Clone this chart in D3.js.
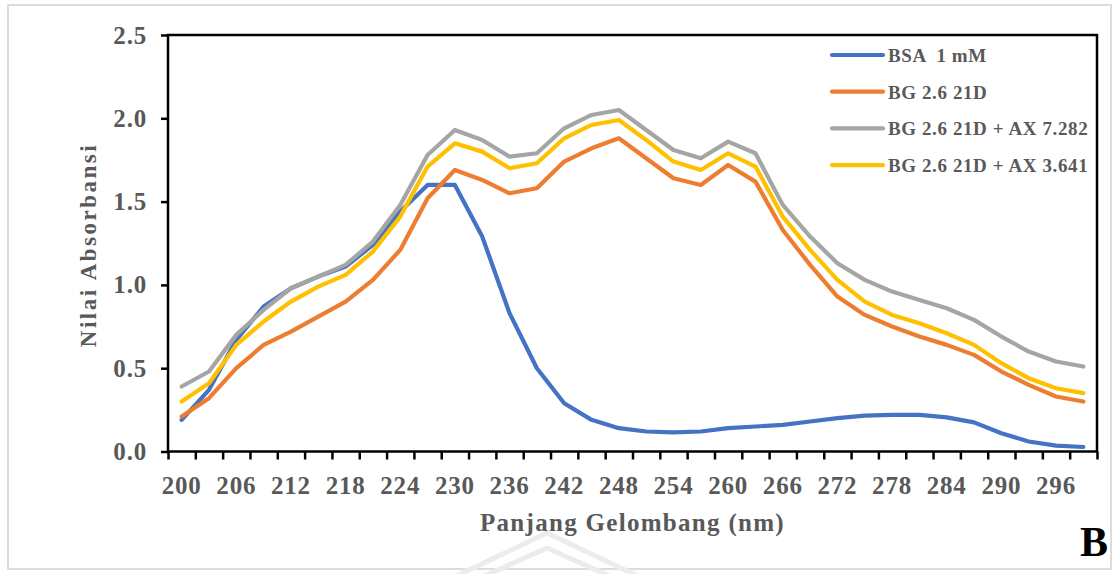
<!DOCTYPE html>
<html>
<head>
<meta charset="utf-8">
<script src="https://cdn.jsdelivr.net/npm/d3@7"></script>
<style>
  html, body { margin: 0; padding: 0; background: #fff; }
  svg { display: block; }
  text { font-family: "Liberation Serif", "Times New Roman", serif; font-weight: bold; }
</style>
</head>
<body>
<svg id="chart" width="1117" height="574"></svg>
<script>
// Wavelength categories (nm), one absorbance reading per category
const wavelengths = [200, 203, 206, 209, 212, 215, 218, 221, 224, 227, 230, 233, 236, 239, 242, 245, 248,
                     251, 254, 257, 260, 263, 266, 269, 272, 275, 278, 281, 284, 287, 290, 293, 296, 299];

const bsa = [0.19, 0.37, 0.67, 0.87, 0.98, 1.05, 1.11, 1.24, 1.44, 1.60, 1.60, 1.29, 0.83, 0.50, 0.29, 0.19, 0.14,
             0.12, 0.115, 0.12, 0.14, 0.15, 0.16, 0.18, 0.20, 0.215, 0.22, 0.22, 0.205, 0.175, 0.11, 0.06, 0.035, 0.027];

const bg = [0.21, 0.32, 0.50, 0.64, 0.72, 0.81, 0.90, 1.03, 1.21, 1.52, 1.69, 1.63, 1.55, 1.58, 1.74, 1.82, 1.88,
            1.76, 1.64, 1.60, 1.72, 1.62, 1.33, 1.12, 0.93, 0.82, 0.75, 0.69, 0.64, 0.58, 0.48, 0.40, 0.33, 0.30];

const bgAx7282 = [0.39, 0.48, 0.70, 0.85, 0.98, 1.05, 1.12, 1.26, 1.48, 1.78, 1.93, 1.87, 1.77, 1.79, 1.94, 2.02, 2.05,
                  1.93, 1.81, 1.76, 1.86, 1.79, 1.48, 1.29, 1.13, 1.03, 0.96, 0.91, 0.86, 0.79, 0.69, 0.60, 0.54, 0.51];

const bgAx3641 = [0.30, 0.41, 0.64, 0.78, 0.90, 0.99, 1.06, 1.20, 1.41, 1.71, 1.85, 1.80, 1.70, 1.73, 1.88, 1.96, 1.99,
                  1.87, 1.74, 1.69, 1.79, 1.71, 1.41, 1.21, 1.03, 0.90, 0.82, 0.77, 0.71, 0.64, 0.53, 0.44, 0.38, 0.35];

const seriesNames = ["BSA  1 mM", "BG 2.6 21D", "BG 2.6 21D + AX 7.282", "BG 2.6 21D + AX 3.641"];
const seriesColors = ["#4472C4", "#ED7D31", "#A5A5A5", "#FFC000"];
const seriesValues = [bsa, bg, bgAx7282, bgAx3641];

const yTicks = [0, 0.5, 1.0, 1.5, 2.0, 2.5];
const xLabels = [200, 206, 212, 218, 224, 230, 236, 242, 248, 254, 260, 266, 272, 278, 284, 290, 296];

const svg = d3.select("#chart");
const plotLeft = 168, plotRight = 1097, plotTop = 35, plotBottom = 451.5;
const labelColor = "#595959";

// outer frame
svg.append("rect")
  .attr("x", 8).attr("y", 5).attr("width", 1103).attr("height", 564)
  .attr("fill", "none").attr("stroke", "#dcdcdc").attr("stroke-width", 2);

// faint background emblem at the bottom
const emblem = svg.append("g").attr("fill", "none").attr("stroke", "#ececec")
  .attr("stroke-width", 5).attr("stroke-linejoin", "miter");
emblem.append("path").attr("d", "M452,578 L547,533 L642,578");
emblem.append("path").attr("d", "M480,578 L547,548 L614,578");

const x = d3.scaleBand().domain(wavelengths).range([plotLeft, plotRight]).padding(0);
const xEdge = d3.scaleLinear().domain([0, wavelengths.length]).range([plotLeft, plotRight]);
const y = d3.scaleLinear().domain([0, 2.5]).range([plotBottom, plotTop]);

// y axis
const yAxis = svg.append("g").attr("transform", `translate(${plotLeft},0)`)
  .call(d3.axisLeft(y).tickValues(yTicks).tickFormat(d3.format(".1f")).tickSize(7).tickPadding(14));
yAxis.select(".domain").remove();
yAxis.selectAll("line").attr("stroke", "#000").attr("stroke-width", 2.5);
yAxis.selectAll("text").attr("fill", labelColor).style("font-size", "25px").style("letter-spacing", "0.8px");

// x axis tick marks at category boundaries
const xTickAxis = svg.append("g").attr("transform", `translate(0,${plotBottom})`)
  .call(d3.axisBottom(xEdge).tickValues(d3.range(wavelengths.length + 1)).tickFormat("").tickSize(8));
xTickAxis.select(".domain").remove();
xTickAxis.selectAll("line").attr("stroke", "#000").attr("stroke-width", 2.5);

// x axis labels at category centres
const xLabelAxis = svg.append("g").attr("transform", `translate(0,${plotBottom})`)
  .call(d3.axisBottom(x).tickValues(xLabels).tickSize(0));
xLabelAxis.select(".domain").remove();
xLabelAxis.selectAll("text").attr("fill", labelColor).style("font-size", "25px").style("letter-spacing", "0.8px")
  .attr("y", 42).attr("dy", 0);

// plot-area border
svg.append("rect")
  .attr("x", plotLeft).attr("y", plotTop).attr("width", plotRight - plotLeft).attr("height", plotBottom - plotTop)
  .attr("fill", "none").attr("stroke", "#000").attr("stroke-width", 2.5);

// series lines
const line = d3.line()
  .x((d, i) => x(wavelengths[i]) + x.bandwidth() / 2)
  .y(d => y(d));
seriesValues.forEach((vals, k) => {
  svg.append("path").datum(vals)
    .attr("fill", "none").attr("stroke", seriesColors[k]).attr("stroke-width", 4.2)
    .attr("stroke-linejoin", "round").attr("stroke-linecap", "round")
    .attr("d", line);
});

// axis titles
svg.append("text").attr("x", (plotLeft + plotRight) / 2).attr("y", 531)
  .attr("text-anchor", "middle").attr("fill", labelColor)
  .style("font-size", "25px").style("letter-spacing", "1.3px")
  .text("Panjang Gelombang (nm)");
svg.append("text").attr("transform", "translate(96,245) rotate(-90)")
  .attr("text-anchor", "middle").attr("fill", labelColor)
  .style("font-size", "23px").style("letter-spacing", "2.5px")
  .text("Nilai Absorbansi");

// legend
const legend = svg.append("g");
seriesNames.forEach((name, k) => {
  const ly = 55 + k * 36.7;
  legend.append("line").attr("x1", 832).attr("x2", 883).attr("y1", ly).attr("y2", ly)
    .attr("stroke", seriesColors[k]).attr("stroke-width", 4.2).attr("stroke-linecap", "round");
  legend.append("text").attr("x", 888).attr("y", ly + 7)
    .attr("fill", labelColor).style("font-size", "19px").style("letter-spacing", "0.6px")
    .style("white-space", "pre")
    .text(name);
});

// panel letter
svg.append("text").attr("x", 1080).attr("y", 556).attr("fill", "#000")
  .style("font-size", "42px").text("B");
</script>
</body>
</html>
